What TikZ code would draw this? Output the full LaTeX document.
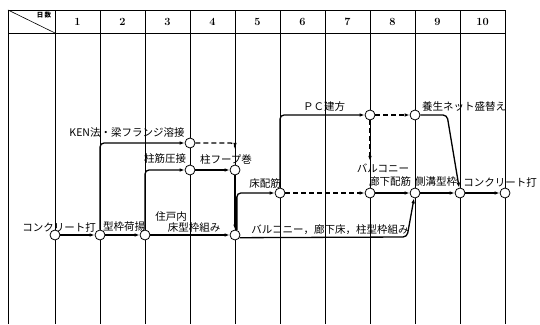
\documentclass[tikz,border=0pt]{standalone}
\usepackage{fontspec}
\usepackage{tikz}
\usetikzlibrary{arrows, arrows.meta}
\newfontfamily\jfont{Noto Sans CJK JP}

\begin{document}
\begin{tikzpicture}[x=1pt, y=1pt, >={Latex[length=5pt,width=3.6pt]}]
\tikzstyle{event}=[circle, draw, fill=white, line width=0.8pt, minimum size=10pt, inner sep=0pt]
\tikzstyle{job}=[->, line width=1.3pt, rounded corners=4pt]
\tikzstyle{dummy}=[job, dash pattern=on 5pt off 3pt]
\tikzstyle{lbl}=[inner sep=0pt, font=\jfont\fontsize{10.5}{12}\selectfont]

\useasboundingbox (0,0) rectangle (540,324);

% table
\draw[line width=0.7pt] (8,314) -- (505,314) (8,291) -- (505,291);
\draw[line width=0.6pt] (8,0) -- (8,314);
\foreach \x in {0,1,...,10}
   \draw[line width=0.5pt] (55+45*\x,0) -- (55+45*\x,314);
\draw[line width=0.6pt] (8,314) -- (55,291);
\node[font=\jfont\bfseries\fontsize{6.5}{7}\selectfont, inner sep=0pt] (hd) at (44,309) {日\,数};
\foreach \x in {1,2,...,10}
   \node[font=\bfseries\fontsize{11}{13}\selectfont] (d\x) at (32.5+45*\x,302.5) {\x};

% events
\node[event] (n1) at (55,89) {};
\node[event] (n2) at (100,89) {};
\node[event] (n3) at (145,89) {};
\node[event] (n4) at (235,89) {};
\node[event] (ken) at (190,181) {};
\node[event] (atsu) at (190,154) {};
\node[event] (hoop) at (235,154) {};
\node[event] (yuka) at (280,131) {};
\node[event] (pc) at (370,209) {};
\node[event] (net) at (415,209) {};
\node[event] (rouka) at (370,131) {};
\node[event] (sokko) at (415,131) {};
\node[event] (conc) at (460,131) {};
\node[event] (fin) at (505,131) {};
\coordinate (kenend) at (235,176);
\coordinate (pcend) at (370,163);

% activities
\draw[job] (n1) -- (n2);
\draw[job] (n2) -- (n3);
\draw[job] (n3) -- (n4);
\draw[job] (n2) |- (ken);
\draw[job] (n3) |- (atsu);
\draw[job] (atsu) -- (hoop);
\draw[job] (hoop) -- (n4);
\draw[dummy] (ken) -| (kenend);
\draw[job] (n4.70) |- (yuka);
\draw[job] (n4.-30) -- (407,87) -- (sokko);
\draw[dummy] (yuka) -- (rouka);
\draw[job] (yuka) |- (pc);
\draw[dummy] (pc) -- (net);
\draw[dummy] (pc) -- (pcend);
\draw[job] (net) -- (447,209) -- (conc);
\draw[job] (rouka) -- (sokko);
\draw[job] (sokko) -- (conc);
\draw[job] (conc) -- (fin);

% labels
\node[lbl] (l1) at (59,97) {コンクリート打};
\node[lbl] (l2) at (124,97) {型枠荷揚};
\node[lbl] (l3a) at (171,107) {住戸内};
\node[lbl] (l3b) at (194,96) {床型枠組み};
\node[lbl] (l4) at (127,191) {KEN法・梁フランジ溶接};
\node[lbl] (l5) at (165,165) {柱筋圧接};
\node[lbl] (l6) at (226,165) {柱フープ巻};
\node[lbl] (l7) at (265,140) {床配筋};
\node[lbl] (l8) at (330,94) {バルコニー，廊下床，柱型枠組み};
\node[lbl] (l9) at (324,217) {ＰＣ建方};
\node[lbl] (l10) at (464,217) {養生ネット盛替え};
\node[lbl] (l11a) at (383,156) {バルコニー};
\node[lbl] (l11b) at (390,142) {廊下配筋};
\node[lbl] (l12) at (436,142) {側溝型枠};
\node[lbl] (l13) at (500,142) {コンクリート打};

\end{tikzpicture}
\end{document}
